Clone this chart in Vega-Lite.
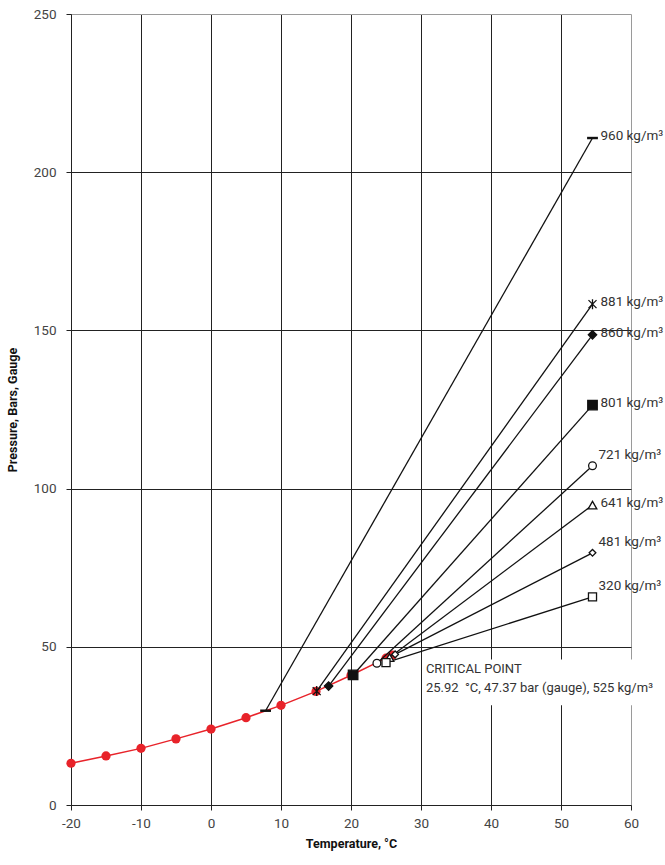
{
  "$schema": "https://vega.github.io/schema/vega-lite/v6.json",
  "width": 560,
  "height": 791,
  "autosize": "none",
  "padding": {"left": 71, "top": 14, "right": 34, "bottom": 60},
  "background": "white",
  "config": {
    "view": {"stroke": null},
    "font": "Roboto, sans-serif",
    "axis": {
      "labelFont": "Roboto, sans-serif",
      "titleFont": "Roboto, sans-serif",
      "labelFontSize": 13.5,
      "labelColor": "#444",
      "titleFontSize": 12.5,
      "titleFontWeight": "bold",
      "titleColor": "#111",
      "domainColor": "#222",
      "tickColor": "#222",
      "tickSize": 5,
      "gridOpacity": 1,
      "gridWidth": 1,
      "labelFlush": false
    }
  },
  "datasets": {
    "curve": [
      {"t": -20, "p": 13.2},
      {"t": -15, "p": 15.5},
      {"t": -10, "p": 17.9},
      {"t": -5, "p": 20.9},
      {"t": 0, "p": 24.0},
      {"t": 5, "p": 27.6},
      {"t": 10, "p": 31.5},
      {"t": 15, "p": 35.9},
      {"t": 20, "p": 41.0},
      {"t": 25, "p": 46.4},
      {"t": 25.92, "p": 47.37}
    ],
    "iso": [
      {"density": "960", "t": 7.8, "p": 29.8},
      {"density": "960", "t": 54.5, "p": 210.8},
      {"density": "881", "t": 15.1, "p": 36.0},
      {"density": "881", "t": 54.5, "p": 158.3},
      {"density": "860", "t": 16.8, "p": 37.6},
      {"density": "860", "t": 54.5, "p": 148.6},
      {"density": "801", "t": 20.3, "p": 41.1},
      {"density": "801", "t": 54.5, "p": 126.4},
      {"density": "721", "t": 23.7, "p": 44.8},
      {"density": "721", "t": 54.5, "p": 107.2},
      {"density": "641", "t": 25.5, "p": 46.6},
      {"density": "641", "t": 54.5, "p": 94.8},
      {"density": "481", "t": 26.3, "p": 47.6},
      {"density": "481", "t": 54.5, "p": 79.7},
      {"density": "320", "t": 25.0, "p": 45.0},
      {"density": "320", "t": 54.5, "p": 65.8}
    ],
    "note": [
      {"text": "CRITICAL POINT"}
    ]
  },
  "layer": [
    {
      "data": {"name": "note"},
      "mark": {"type": "rect", "color": "white"},
      "encoding": {
        "x": {"datum": 30.25, "type": "quantitative"},
        "x2": {"datum": 63.5},
        "y": {"datum": 31.5, "type": "quantitative"},
        "y2": {"datum": 46.0}
      }
    },
    {
      "data": {"name": "curve"},
      "mark": {"type": "line", "color": "#e8232a", "strokeWidth": 1.5, "point": {"filled": true, "size": 85, "color": "#e8232a"}},
      "encoding": {
        "x": {
          "field": "t", "type": "quantitative",
          "scale": {"domain": [-20, 60], "nice": false, "zero": false},
          "axis": {
            "title": "Temperature, °C",
            "values": [-20, -10, 0, 10, 20, 30, 40, 50, 60],
            "labelExpr": "datum.value < 0 ? '-' + abs(datum.value) : '' + datum.value",
            "grid": true,
            "gridColor": {"condition": {"test": "datum.value === 60", "value": "#9a9a9a"}, "value": "#222"},
            "labelPadding": 6,
            "titlePadding": 8
          }
        },
        "y": {
          "field": "p", "type": "quantitative",
          "scale": {"domain": [0, 250], "nice": false},
          "axis": {
            "title": "Pressure, Bars, Gauge",
            "values": [0, 50, 100, 150, 200, 250],
            "grid": true,
            "gridColor": {"condition": {"test": "datum.value === 250", "value": "#9a9a9a"}, "value": "#222"},
            "labelPadding": 10,
            "titlePadding": 14
          }
        }
      }
    },
    {
      "data": {"name": "iso"},
      "mark": {"type": "line", "color": "#111", "strokeWidth": 1.3},
      "encoding": {
        "x": {"field": "t", "type": "quantitative"},
        "y": {"field": "p", "type": "quantitative"},
        "detail": {"field": "density"}
      }
    },
    {
      "data": {"name": "iso"},
      "mark": {"type": "point", "stroke": "#111", "strokeWidth": 1.3, "opacity": 1},
      "encoding": {
        "x": {"field": "t", "type": "quantitative"},
        "y": {"field": "p", "type": "quantitative"},
        "shape": {
          "field": "density", "type": "nominal", "legend": null,
          "scale": {
            "domain": ["960", "881", "860", "801", "721", "641", "481", "320"],
            "range": ["M-1,-0.12L1,-0.12L1,0.12L-1,0.12Z", "M-0.8,-0.8L0.8,0.8M-0.8,0.8L0.8,-0.8M0,-1L0,1", "diamond", "square", "circle", "triangle-up", "diamond", "square"]
          }
        },
        "fill": {
          "field": "density", "type": "nominal", "legend": null,
          "scale": {
            "domain": ["960", "881", "860", "801", "721", "641", "481", "320"],
            "range": ["#111", "#111", "#111", "#111", "white", "white", "white", "white"]
          }
        },
        "size": {
          "field": "density", "type": "nominal", "legend": null,
          "scale": {
            "type": "ordinal",
            "domain": ["960", "881", "860", "801", "721", "641", "481", "320"],
            "range": [90, 100, 70, 90, 60, 75, 45, 65]
          }
        }
      }
    },
    {
      "data": {"name": "iso"},
      "transform": [
        {"filter": "datum.t > 50"},
        {"filter": "indexof(['721','481','320'], datum.density) < 0"},
        {"calculate": "datum.density + ' kg/m³'", "as": "label"}
      ],
      "mark": {"type": "text", "align": "left", "dx": 8, "dy": -2, "fontSize": 13.5, "color": "#333"},
      "encoding": {
        "x": {"field": "t", "type": "quantitative"},
        "y": {"field": "p", "type": "quantitative"},
        "text": {"field": "label"}
      }
    },
    {
      "data": {"name": "iso"},
      "transform": [
        {"filter": "datum.t > 50"},
        {"filter": "indexof(['721','481','320'], datum.density) >= 0"},
        {"calculate": "datum.density + ' kg/m³'", "as": "label"}
      ],
      "mark": {"type": "text", "align": "left", "dx": 6, "dy": -11, "fontSize": 13.5, "color": "#333"},
      "encoding": {
        "x": {"field": "t", "type": "quantitative"},
        "y": {"field": "p", "type": "quantitative"},
        "text": {"field": "label"}
      }
    },
    {
      "data": {"name": "note"},
      "mark": {"type": "text", "align": "left", "baseline": "top", "fontSize": 13, "lineHeight": 19, "color": "#333"},
      "encoding": {
        "x": {"datum": 30.7, "type": "quantitative"},
        "y": {"datum": 44.9, "type": "quantitative"},
        "text": {"value": ["CRITICAL POINT", "25.92\u00a0 °C, 47.37 bar (gauge), 525 kg/m³"]}
      }
    }
  ]
}
